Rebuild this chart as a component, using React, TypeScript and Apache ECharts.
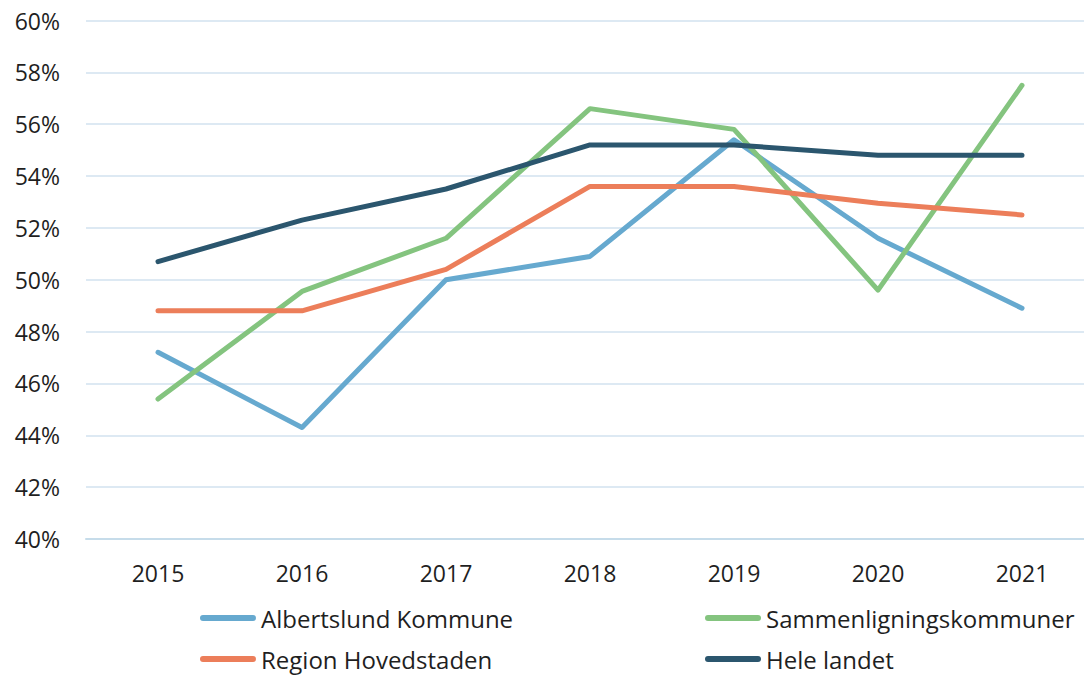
import React, { useEffect, useRef } from "react";
import * as echarts from "echarts";

const years = ["2015", "2016", "2017", "2018", "2019", "2020", "2021"];
const albertslund = [47.2, 44.3, 50.0, 50.9, 55.4, 51.6, 48.9];
const sammenligning = [45.4, 49.55, 51.6, 56.6, 55.8, 49.6, 57.5];
const region = [48.8, 48.8, 50.4, 53.6, 53.6, 52.95, 52.5];
const heleLandet = [50.7, 52.3, 53.5, 55.2, 55.2, 54.8, 54.8];

const names = ["Albertslund Kommune", "Sammenligningskommuner", "Region Hovedstaden", "Hele landet"];
const colors = ["#66a9cf", "#84c47f", "#ec7e5a", "#2b566e"];

const FONT = "'Open Sans', 'Noto Sans', sans-serif";
const capsule = "path://M3,0 L53,0 A3,3 0 0 1 53,6 L3,6 A3,3 0 0 1 3,0 Z";

export default function App() {
  const ref = useRef<HTMLDivElement>(null);
  useEffect(() => {
    if (!ref.current) return;
    const chart = echarts.init(ref.current, null, { renderer: "svg" });
    const dataSets = [albertslund, sammenligning, region, heleLandet];
    const legendPos = [
      { left: 200, top: 606 },
      { left: 705, top: 606 },
      { left: 200, top: 647 },
      { left: 705, top: 647 },
    ];
    chart.setOption({
      animation: false,
      textStyle: { fontFamily: FONT },
      grid: { left: 86, right: 0, top: 20.5, bottom: 136 },
      legend: names.map((n, i) => ({
        left: legendPos[i].left,
        top: legendPos[i].top,
        padding: 0,
        itemWidth: 56,
        itemHeight: 6,
        icon: capsule,
        data: [n],
        textStyle: { fontFamily: FONT, fontSize: 24, color: "#1f1f1f" },
      })),
      xAxis: {
        type: "category",
        data: years,
        boundaryGap: true,
        axisLine: { show: true, lineStyle: { color: "#c6dcea", width: 2 } },
        axisTick: { show: false },
        axisLabel: { fontFamily: FONT, fontSize: 23, color: "#1f1f1f", margin: 22 },
      },
      yAxis: {
        type: "value",
        min: 40,
        max: 60,
        interval: 2,
        axisLine: { show: false },
        axisTick: { show: false },
        splitLine: { lineStyle: { color: "#dde9f3", width: 2 } },
        axisLabel: {
          fontFamily: FONT,
          fontSize: 23,
          color: "#1f1f1f",
          margin: 26,
          formatter: "{value}%",
        },
      },
      series: dataSets.map((d, i) => ({
        name: names[i],
        type: "line",
        data: d,
        showSymbol: false,
        symbol: "none",
        color: colors[i],
        lineStyle: { color: colors[i], width: 5, cap: "round", join: "round" },
      })),
    });
    return () => chart.dispose();
  }, []);
  return (
    <div style={{ position: "fixed", left: 0, top: 0, width: 1084, height: 675, overflow: "hidden", background: "#fff" }}>
      <div ref={ref} style={{ width: 1094, height: 675 }} />
    </div>
  );
}
